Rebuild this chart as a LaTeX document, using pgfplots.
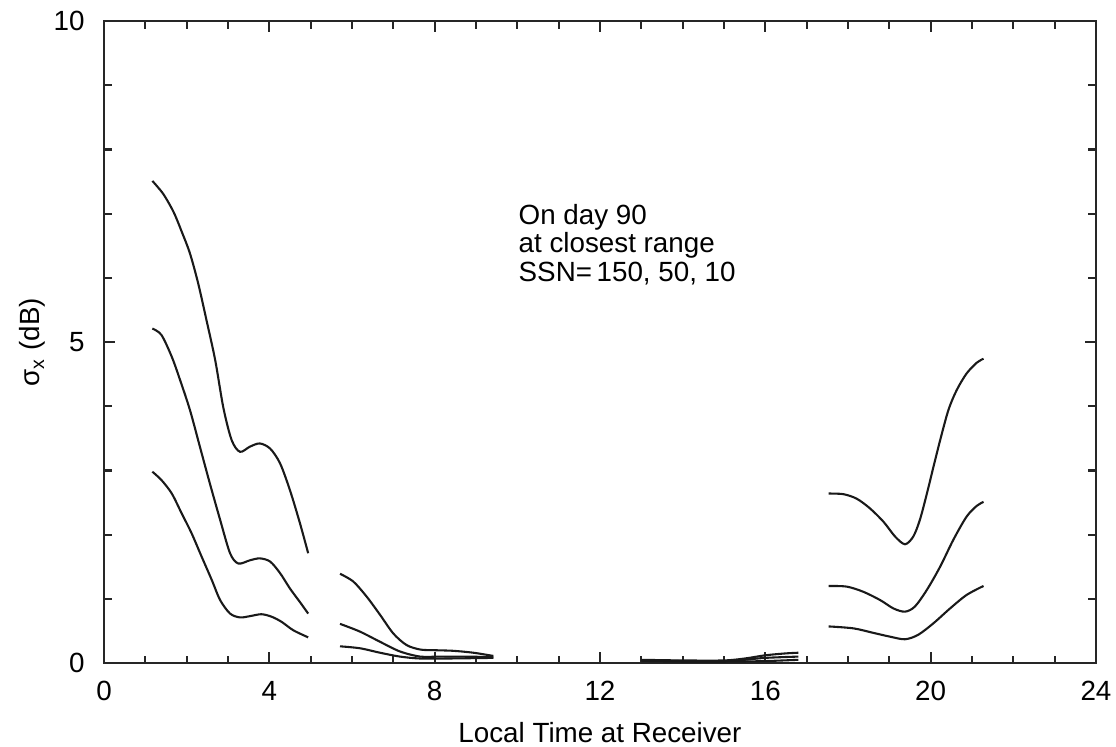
\documentclass[border=0pt]{standalone}
\usepackage{fontspec}
\setmainfont{Liberation Sans}
\usepackage{pgfplots}
\pgfplotsset{compat=1.18}

\begin{document}
\begin{tikzpicture}
% page frame in reference pixels (1px = 0.36pt), axis corner at (0,0)
\path[use as bounding box] (-37.44pt,-29.88pt) rectangle (364.32pt,238.68pt);
\begin{axis}[
width=357.1pt,
height=231.1pt,
scale only axis,
xmin=0, xmax=24,
ymin=0, ymax=10,
xtick={0,4,...,24},
ytick={0,5,10},
minor x tick num=3,
minor y tick num=4,
tick align=inside,
tick pos=both,
major tick length=4pt,
minor tick length=2.7pt,
axis line style={line width=0.9pt, black!85},
every tick/.style={line width=0.8pt, black!85},
font=\fontsize{10pt}{12pt}\selectfont,
/pgf/number format/assume math mode=true,
xticklabel style={yshift=-3pt},
yticklabel style={xshift=-3.5pt},
xlabel={Local Time at Receiver},
ylabel={σ\textsubscript{x} (dB)},
xlabel style={yshift=-1pt},
ylabel style={yshift=-4pt},
curve/.style={line width=0.75pt, black!90, solid, smooth, tension=0.5, no marks},
]
% SSN = 150
\addplot[curve] coordinates {(1.17,7.51) (1.43,7.31) (1.68,7.03) (1.88,6.72) (2.08,6.38) (2.28,5.91) (2.48,5.34) (2.69,4.72) (2.89,3.97) (3.09,3.47) (3.29,3.29) (3.53,3.37) (3.77,3.42) (4.02,3.34) (4.26,3.11) (4.50,2.69) (4.74,2.18) (4.94,1.71)};
\addplot[curve] coordinates {(5.71,1.39) (6.03,1.27) (6.36,1.03) (6.68,0.75) (7.00,0.46) (7.32,0.28) (7.65,0.21) (7.97,0.20) (8.45,0.19) (8.94,0.16) (9.42,0.11)};
\addplot[curve] coordinates {(13.0,0.05) (14.0,0.04) (15.0,0.04) (15.5,0.07) (16.0,0.12) (16.5,0.15) (16.8,0.16)};
\addplot[curve] coordinates {(17.53,2.64) (17.89,2.63) (18.21,2.56) (18.53,2.41) (18.86,2.20) (19.14,1.97) (19.38,1.85) (19.58,1.97) (19.74,2.23) (19.91,2.64) (20.07,3.06) (20.23,3.47) (20.43,3.94) (20.63,4.25) (20.87,4.51) (21.12,4.68) (21.28,4.74)};
% SSN = 50
\addplot[curve] coordinates {(1.17,5.21) (1.39,5.11) (1.64,4.77) (1.84,4.41) (2.08,3.94) (2.32,3.37) (2.56,2.80) (2.81,2.23) (3.05,1.71) (3.25,1.55) (3.53,1.60) (3.77,1.63) (4.02,1.58) (4.26,1.40) (4.50,1.16) (4.74,0.95) (4.94,0.77)};
\addplot[curve] coordinates {(5.71,0.61) (6.19,0.49) (6.68,0.33) (7.16,0.18) (7.65,0.10) (8.13,0.10) (8.80,0.10) (9.42,0.09)};
\addplot[curve] coordinates {(13.0,0.04) (14.0,0.03) (15.0,0.03) (15.5,0.05) (16.0,0.08) (16.8,0.10)};
\addplot[curve] coordinates {(17.53,1.20) (17.97,1.19) (18.37,1.11) (18.78,0.98) (19.10,0.85) (19.38,0.80) (19.62,0.88) (19.91,1.14) (20.23,1.50) (20.55,1.92) (20.87,2.28) (21.12,2.45) (21.28,2.51)};
% SSN = 10
\addplot[curve] coordinates {(1.17,2.98) (1.39,2.85) (1.64,2.64) (1.88,2.33) (2.12,2.02) (2.36,1.66) (2.61,1.29) (2.81,0.98) (3.05,0.77) (3.29,0.71) (3.53,0.73) (3.81,0.76) (4.06,0.72) (4.30,0.64) (4.58,0.51) (4.94,0.40)};
\addplot[curve] coordinates {(5.71,0.26) (6.19,0.23) (6.68,0.16) (7.16,0.10) (7.65,0.07) (8.30,0.07) (9.42,0.08)};
\addplot[curve] coordinates {(13.0,0.03) (14.0,0.02) (15.0,0.02) (16.0,0.03) (16.8,0.05)};
\addplot[curve] coordinates {(17.53,0.57) (18.13,0.54) (18.61,0.47) (19.02,0.41) (19.38,0.37) (19.70,0.44) (20.07,0.62) (20.47,0.85) (20.87,1.06) (21.28,1.20)};

\node[anchor=north west, align=left, inner sep=0pt,
      font=\fontsize{10pt}{10.3pt}\selectfont]
  at (axis cs:10.02,7.16) {On day 90\\at closest range\\SSN=\,150, 50, 10};
\end{axis}
\end{tikzpicture}
\end{document}
